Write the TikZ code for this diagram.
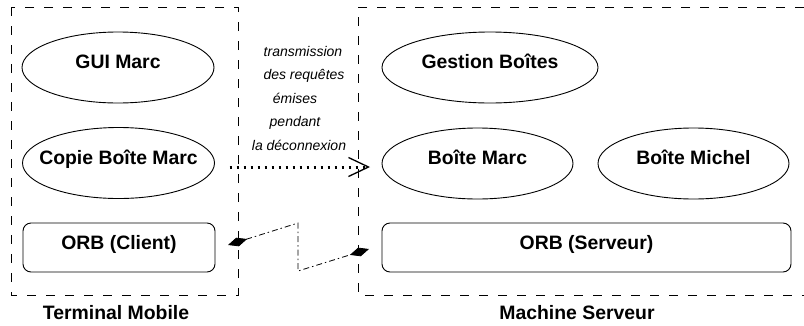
\documentclass[tikz,border=0pt]{standalone}
\usepackage{fontspec}
\setmainfont{Liberation Sans}
\usetikzlibrary{arrows.meta,shapes.geometric}
\begin{document}
\begin{tikzpicture}[x=1pt,y=-1pt,
  every node/.style={inner sep=0pt, outer sep=0pt},
  lbl/.style={font=\fontsize{19.4}{21}\selectfont\bfseries, text height=13.9pt, text depth=0pt, inner sep=0pt},
  oval/.style={draw, ellipse, line width=0.9pt, minimum width=192pt, minimum height=71pt},
  rbox/.style={draw, rectangle, rounded corners=8pt, line width=0.9pt, minimum height=49pt},
  frame/.style={line width=0.8pt, dash pattern=on 9pt off 10pt},
  note/.style={font=\fontsize{14}{16}\selectfont\itshape, anchor=base},
  caption/.style={font=\fontsize{19.4}{21}\selectfont\bfseries, anchor=base},
  dotarrow/.style={line width=3pt, dash pattern=on 2.5pt off 4.5pt,
    -{Straight Barb[length=20pt,width=19pt,line width=1.3pt]}},
  dashdot/.style={line width=0.8pt, dash pattern=on 6pt off 3pt on 1.5pt off 3pt,
    {Diamond[length=20pt,width=9pt]}-{Diamond[length=20pt,width=9pt]}}
]
\useasboundingbox (0,0) rectangle (804,325);

% frames
\draw[frame] (11,7) rectangle (238,295);
\draw[frame] (804,7) -- (358,7) -- (358,295) -- (804,295);

% left side
\node[oval, label={[lbl,yshift=5.5pt]center:GUI Marc}] (gui) at (118,67.5) {};
\node[oval, label={[lbl,yshift=5.5pt]center:Copie Boîte Marc}] (copie) at (118.5,163) {};
\node[rbox, minimum width=192pt, label={[lbl,yshift=5pt]center:ORB (Client)}] (orbc) at (119,247.5) {};

% right side
\node[oval, minimum width=216pt, label={[lbl,yshift=5.5pt]center:Gestion Boîtes}] (gestion) at (490,67.5) {};
\node[oval, minimum width=191pt, label={[lbl,yshift=5.5pt]center:Boîte Marc}] (bmarc) at (477.5,163.5) {};
\node[oval, minimum width=191pt, label={[lbl,yshift=5.5pt]center:Boîte Michel}] (bmichel) at (693.5,163.5) {};
\node[rbox, minimum width=409pt, label={[lbl,yshift=5pt]center:ORB (Serveur)}] (orbs) at (586.5,247.5) {};

% captions
\node[caption] (tm) at (116,319) {Terminal Mobile};
\node[caption] (ms) at (577,319) {Machine Serveur};

% transmission note
\node[note] (n1) at (303,56) {transmission};
\node[note] (n2) at (304,79.5) {des requêtes};
\node[note] (n3) at (295,103) {émises};
\node[note] (n4) at (295,126.5) {pendant};
\node[note] (n5) at (299,150) {la déconnexion};

% dotted arrow
\coordinate (a1) at ([xshift=15pt,yshift=-4pt]copie.east);
\coordinate (a2) at ([xshift=-12pt,yshift=-3.5pt]bmarc.west);
\draw[dotarrow] (a1) -- (a2);

% dash-dot link between ORBs
\coordinate (c1) at ([xshift=13pt,yshift=2.5pt]orbc.east);
\coordinate (k1) at (298,223);
\coordinate (k2) at (298,271);
\coordinate (c2) at ([xshift=-13pt,yshift=-1.5pt]orbs.west);
\draw[dashdot] (c1) -- (k1) -- (k2) -- (c2);
\end{tikzpicture}
\end{document}
